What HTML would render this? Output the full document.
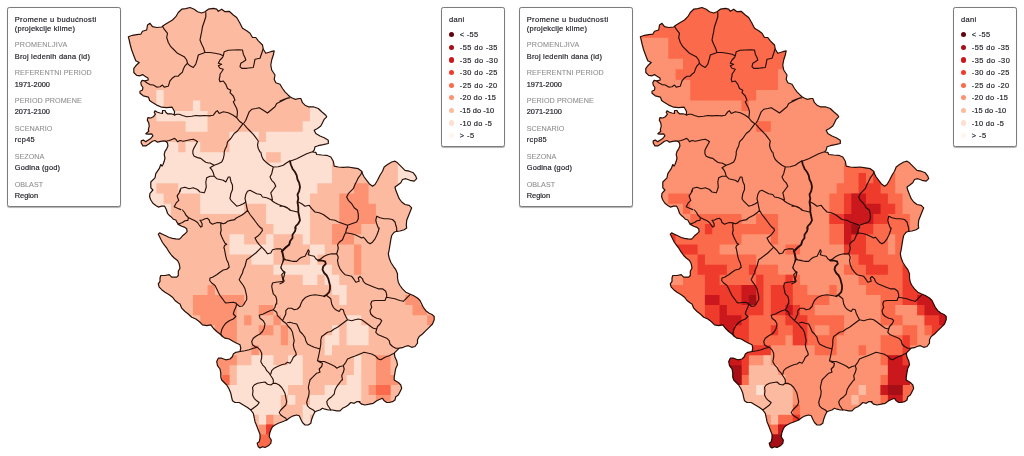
<!DOCTYPE html><html lang="sr"><head><meta charset="utf-8"><title>Promene u budućnosti</title><style>
html,body{margin:0;padding:0;background:#fff}
body{width:1024px;height:456px;position:relative;overflow:hidden;font-family:"Liberation Sans",sans-serif;color:#222}
.map{position:absolute;left:0;top:0}
.box{position:absolute;top:7px;box-sizing:border-box;background:#fff;border:1px solid #7c7c7c;border-radius:2.5px;box-shadow:0 .6px .8px rgba(0,0,0,.3)}
.box div{position:absolute;line-height:10px;height:10px;white-space:nowrap;margin:-1px 0 0 -1px}
.v{color:#1d1d24;-webkit-text-stroke:.18px #1d1d24}
.l{color:#8f8f8f;-webkit-text-stroke:.08px #8f8f8f}
.box i{position:absolute;width:5.3px;height:5.3px;border-radius:50%;margin:-1px 0 0 -1px}
</style></head><body><svg class="map" width="1024" height="456" viewBox="0 0 1024 456"><defs><clipPath id="c"><path d="M135.8 60.8L134.2 56.7L131.7 50.0L130.3 45.0L129.2 40.0L128.3 36.7L132.5 35.3L136.7 34.7L140.8 34.2L142.5 31.3L146.7 30.0L147.5 25.0L150.0 23.3L152.5 26.7L156.7 27.5L161.7 27.0L164.2 25.0L168.3 22.5L172.5 20.0L175.8 16.7L178.3 12.5L181.7 9.2L185.8 8.7L190.0 7.5L194.2 9.2L197.5 11.7L201.7 13.0L205.0 11.7L208.3 9.2L213.3 8.3L216.7 9.2L218.3 11.3L221.7 9.2L225.0 11.7L229.2 11.3L233.3 15.0L236.7 17.5L240.0 23.3L242.5 28.3L246.7 30.8L250.0 33.3L252.5 37.5L255.8 37.5L258.3 40.8L262.5 45.0L263.3 49.2L265.8 53.3L270.8 51.7L274.2 50.8L273.3 55.0L271.7 60.0L270.8 65.0L271.7 70.0L275.0 75.0L275.0 75.0L274.2 79.3L275.8 82.7L280.0 84.3L282.5 88.5L285.0 91.8L288.3 95.2L290.0 96.8L291.7 97.7L295.0 99.3L299.2 98.5L300.8 98.5L302.5 102.7L305.0 105.2L308.3 106.8L313.3 106.8L318.3 108.5L321.7 111.8L325.8 115.2L326.7 116.8L324.2 119.3L322.5 122.7L320.8 126.0L317.5 128.5L314.2 130.2L315.8 133.5L320.0 136.0L324.2 137.7L328.3 140.2L328.3 143.5L323.3 144.7L318.3 145.7L315.0 146.8L314.2 150.2L312.5 152.0L312.5 152.0L315.8 152.3L316.7 154.5L321.7 155.0L326.7 155.3L330.8 157.0L333.3 161.2L334.2 166.2L338.3 167.0L343.3 167.3L348.3 167.0L353.3 167.8L358.3 168.7L361.7 171.2L362.5 173.7L364.2 177.0L366.7 180.3L369.2 183.7L372.5 186.2L375.0 184.5L377.5 180.3L380.0 175.3L382.5 171.2L384.2 167.0L387.5 164.5L391.7 162.0L395.0 161.2L397.5 162.8L400.0 165.3L402.5 167.8L405.0 170.3L409.2 171.2L413.3 172.8L415.8 176.2L416.7 178.7L414.2 181.2L410.0 180.3L405.8 178.7L402.5 179.5L400.8 182.8L397.5 185.3L395.0 187.0L395.8 190.3L397.5 194.5L399.2 198.7L401.7 202.0L405.0 204.5L409.2 205.3L411.7 207.8L410.0 212.0L408.3 216.2L406.7 220.3L406.3 225.3L406.7 228.0L406.7 228.0L404.2 229.7L400.0 231.0L396.7 231.3L394.2 232.2L391.7 235.5L390.8 239.7L390.0 244.7L389.2 249.7L388.3 253.8L389.2 258.0L390.8 262.2L393.3 266.3L395.8 269.7L397.5 273.8L397.5 278.0L398.3 282.2L400.0 285.5L402.5 288.8L405.8 292.2L409.2 293.8L413.3 295.5L417.5 298.0L420.0 300.5L421.7 304.0L421.7 304.0L423.3 307.3L425.8 310.7L429.2 313.2L432.5 314.8L434.2 316.5L434.2 319.8L432.5 324.0L429.2 327.3L425.8 330.7L422.5 334.0L419.2 336.5L417.5 339.8L417.5 343.2L415.0 346.5L411.7 347.3L408.3 345.7L405.0 346.5L402.5 347.7L399.2 348.2L396.7 350.7L394.2 353.2L395.0 357.3L396.7 360.7L397.5 364.8L395.8 368.2L395.0 372.3L394.2 377.3L394.2 380.0L394.2 380.0L398.3 382.5L400.8 385.0L401.7 388.3L400.0 391.7L398.3 395.0L395.8 396.7L395.0 400.0L392.5 401.7L389.2 402.5L386.7 402.5L384.2 400.8L382.5 398.3L380.0 399.2L376.7 400.8L373.3 403.3L369.2 404.2L365.0 405.0L361.7 404.2L359.2 402.0L360.0 401.7L356.7 401.7L354.2 403.3L350.8 402.5L348.3 405.0L345.8 406.7L342.5 408.3L340.0 410.8L336.7 410.8L332.5 410.0L328.3 410.0L325.0 409.2L322.5 408.3L320.0 410.0L317.5 410.8L315.0 411.7L313.3 415.0L311.7 419.2L310.8 423.3L308.3 425.0L305.0 425.0L302.5 422.5L300.8 419.2L299.2 415.8L296.7 415.0L293.3 415.8L290.0 417.5L286.7 420.0L282.5 421.7L278.3 423.3L275.0 425.0L272.5 426.7L270.8 430.0L269.7 433.3L269.2 436.7L271.3 440.0L270.8 443.3L268.3 445.8L265.0 447.5L262.5 446.7L260.0 448.0L258.3 446.7L257.2 443.3L259.2 441.7L260.0 438.3L260.0 434.2L258.3 430.0L256.7 425.8L255.0 421.7L254.2 417.5L253.3 413.3L250.8 410.0L247.5 407.5L243.3 405.0L239.2 402.5L235.0 402.5L232.5 400.8L231.7 397.5L230.8 393.3L229.2 389.2L226.7 385.0L224.2 382.5L221.7 380.0L221.7 380.0L220.8 377.3L220.8 373.2L220.0 369.0L217.5 365.7L216.7 361.5L218.3 358.2L221.7 358.2L225.8 359.8L230.0 359.0L232.5 356.5L233.3 354.0L235.8 352.3L240.0 351.5L240.8 348.2L240.0 344.8L236.7 343.2L233.3 341.5L229.2 339.0L225.0 338.2L222.5 336.5L220.0 334.0L216.7 331.5L213.3 328.2L210.8 324.8L206.7 325.7L202.5 324.8L199.2 321.5L195.8 319.0L191.7 317.3L188.3 314.0L185.0 311.5L181.7 308.2L180.0 304.0L180.0 304.0L178.3 303.0L175.0 300.5L172.5 297.2L169.2 294.7L165.0 292.2L161.7 289.7L159.2 287.2L158.3 283.8L160.0 281.3L160.0 278.0L160.8 275.5L165.0 275.5L169.2 274.7L171.7 277.2L176.7 277.2L178.3 275.5L178.3 271.3L180.0 268.0L179.2 263.8L177.5 260.5L174.2 258.0L171.7 255.5L169.2 252.2L166.7 248.0L166.7 248.0L164.6 245.4L162.5 242.5L160.8 239.2L159.6 236.7L158.3 234.2L159.6 232.9L162.5 234.2L165.8 235.8L169.2 237.5L172.5 238.3L175.8 238.8L179.2 239.2L180.8 237.9L182.9 235.4L185.0 233.8L187.1 231.7L186.7 228.8L184.2 227.1L181.7 226.2L178.8 224.6L177.1 222.5L175.8 220.0L173.3 219.2L170.4 216.2L170.0 216.2L167.5 213.3L166.2 209.2L164.6 206.2L161.7 206.2L158.3 207.1L155.8 205.4L152.9 203.3L150.8 200.0L149.6 196.7L150.0 193.3L152.9 190.0L150.8 187.8L150.8 182.0L155.0 177.8L155.8 173.7L159.2 168.7L160.8 164.5L162.1 166.0L162.9 164.7L164.2 161.3L165.0 158.0L164.2 154.7L165.0 151.3L166.7 148.8L167.9 145.9L167.5 143.0L165.8 141.3L164.2 140.9L160.8 141.3L157.5 142.2L155.0 140.5L152.5 141.3L149.2 143.8L145.8 145.9L142.9 145.9L141.2 143.0L141.2 140.9L143.3 140.1L145.8 141.8L147.5 140.5L150.8 138.4L152.9 135.9L151.7 133.8L148.3 134.2L145.8 133.8L148.8 131.3L148.3 129.7L149.2 126.3L148.8 123.0L147.3 120.1L147.9 117.6L150.8 118.0L153.3 116.8L155.4 114.2L154.2 112.2L155.0 110.9L157.5 112.2L160.0 113.0L162.5 113.4L162.5 110.5L165.0 110.5L165.8 112.2L167.5 113.8L171.2 113.8L174.2 114.7L174.6 111.8L173.3 109.2L172.1 107.2L166.7 107.6L161.7 107.2L156.7 105.1L152.5 102.6L149.6 100.5L148.8 98.0L148.8 98.0L148.3 97.1L143.3 95.8L140.0 93.3L140.0 91.2L142.5 90.0L142.9 87.5L141.2 85.0L140.8 82.5L142.1 80.4L145.0 80.8L148.3 80.0L147.9 77.9L145.0 76.2L142.5 74.6L140.0 75.8L136.7 75.4L133.8 72.5L133.8 68.3L135.8 65.8L139.2 62.5Z"/></clipPath><g id="b" fill="none" stroke="#200a03" stroke-opacity=".97" stroke-linejoin="round" stroke-linecap="round"><path d="M162.5 26.3L164.2 29.2L167.5 33.3L166.7 37.5L168.3 42.5L170.8 46.7L174.2 50.0L177.5 53.3L180.8 55.0L184.2 56.7L186.7 60.0L187.5 63.3L190.0 65.8L193.3 67.5L195.8 64.2L197.5 58.3L198.3 55.0L201.7 53.7L205.0 52.5M205.8 12.5L205.8 16.7L204.2 21.7L202.5 26.7L201.7 31.7L200.8 35.8L200.0 40.0L201.7 44.2L203.3 47.5L205.0 52.5L210.0 52.5L215.0 53.3L220.0 54.2L223.3 55.8L224.2 51.7L228.3 50.3L233.3 50.0L238.3 49.7L242.5 50.0L243.3 54.2L245.0 57.5L245.8 60.0L243.3 61.7L240.8 63.3L240.0 66.7L241.7 68.3L246.7 68.3L253.3 67.5L254.2 63.3L255.0 59.2L260.0 58.3L261.7 53.3L263.0 49.2M223.3 55.8L222.5 57.5L220.0 60.0L218.3 63.3L221.7 64.2L218.3 65.8L220.0 68.3L223.3 69.2L221.7 71.7L220.0 74.2L220.0 76.0M145.0 81.5L147.5 83.3L150.0 84.6L153.3 85.0L156.7 87.1L160.0 86.7L162.5 85.0L164.2 87.1L168.3 86.2L169.2 83.3L170.0 80.8L172.5 77.9L175.0 76.2L178.3 76.2L180.0 74.2L182.5 72.1L183.3 69.2L185.0 65.8L187.3 63.5M174.3 115.1L176.7 114.2L179.2 114.2L182.5 115.5L186.7 116.8L191.7 116.3L195.8 115.5L200.0 115.9L204.2 115.5L210.0 115.9M165.8 141.3L169.2 140.5L172.5 139.2L174.6 138.4L176.2 139.7L177.5 141.8L180.0 140.5L183.3 141.3L186.7 140.5L190.0 139.7L193.3 139.2L195.8 140.5L197.5 141.8L195.8 144.7L194.2 147.6L192.9 150.5L192.9 153.8L194.2 156.3L197.5 157.6L200.8 158.4L203.3 160.5L205.8 162.2L208.3 163.0L210.0 163.0M220.0 76.0L219.2 79.3L220.0 81.8L223.3 81.0L225.8 84.3L227.5 88.5L230.8 90.2L230.0 92.7L233.3 96.0L235.0 100.2L233.3 101.8L235.0 105.2L236.7 108.5L237.5 111.8L237.0 116.8M210.0 115.7L213.3 115.2L215.8 111.8L217.5 110.7L219.2 113.5L223.3 111.8L228.3 112.7L233.3 115.2L236.7 117.7L239.2 121.0L242.5 123.5M244.2 122.7L245.8 120.2L247.5 116.0L249.2 111.8L251.7 109.3L255.8 108.5L259.2 107.7L263.3 110.2L267.5 113.0L270.8 110.2L275.0 106.8L276.7 103.5L281.7 101.0L286.7 98.5L290.0 97.7M243.3 123.5L246.7 127.7L250.0 131.0L253.3 134.3L255.8 137.7L258.3 141.0L257.5 145.2L258.3 148.5L260.0 152.0M242.5 124.3L240.0 127.7L237.5 131.0L234.2 133.5L230.8 138.5L227.5 141.8L226.7 146.0L225.0 149.3L224.2 152.0M280.0 101.0L284.2 99.3L288.3 97.7M210.0 163.0L214.2 165.3M224.2 152.0L224.2 154.5L223.3 158.7L221.7 162.0L218.3 163.7L214.2 165.3L210.0 167.8L211.7 169.5L213.3 172.8L214.2 176.2M214.2 176.2L210.0 176.2L206.7 177.8L205.8 182.0L206.3 187.0L205.0 191.2L204.2 192.8L200.0 192.0L197.5 189.5L193.3 187.8L189.2 188.7L185.0 187.3L180.8 188.3L180.0 192.0M214.2 176.2L216.7 178.7L220.0 179.5L223.3 180.3L225.8 182.0L228.3 177.0L230.0 177.0L230.8 181.2L232.5 185.3L232.5 189.5L230.8 193.7L230.0 198.7L231.7 201.2L234.2 203.7L236.7 206.2L240.0 205.3L243.3 203.7L245.8 202.0M245.8 202.0L245.0 198.7L245.8 194.5L247.5 191.2L250.0 190.3L253.3 192.0L256.7 193.7L260.8 194.5L262.5 197.0L266.7 197.8L270.8 199.5L272.5 201.2L275.0 202.8L278.3 204.5L283.3 206.2L286.7 207.8L290.0 209.5M245.8 202.0L246.7 207.0L247.5 210.3L250.0 214.5L253.3 218.7L255.8 222.0L258.3 225.3L260.8 228.0M247.5 210.3L245.0 212.8L241.7 215.3L236.7 217.8L235.0 219.0M260.8 152.0L261.7 156.2L263.3 159.5L266.7 162.8L270.0 165.3L273.3 167.0L278.3 166.7L283.3 165.3L286.7 162.8L289.2 161.2M273.3 167.0L272.5 170.3L271.7 173.7L270.0 177.0L271.7 180.3L274.2 182.8L275.8 186.2L273.3 189.5L270.8 192.8L271.7 196.2L272.5 200.3M180.0 190.0L179.2 192.9L177.1 195.8L177.9 198.3L178.8 200.4L176.2 202.9L174.2 206.7L177.5 208.3L180.8 209.6M290.0 161.2L296.7 158.7L301.7 156.2L306.7 153.7L311.7 152.0M298.3 202.0L301.7 203.7L305.0 206.2L309.2 205.3L311.7 208.7L315.0 212.0L319.2 212.8L323.3 214.5L326.7 217.0L330.0 219.5L335.0 220.3L338.3 222.0L343.3 223.7L347.5 225.3L351.7 223.7L356.7 222.0L358.3 218.7L358.3 214.5L357.5 210.3L354.2 207.8L351.7 203.7L348.3 200.3L346.7 197.0L348.3 193.7L350.8 191.2L353.3 188.7L355.0 184.5L356.7 181.2L358.3 177.8L360.8 174.5L362.0 172.0M347.5 225.3L347.5 228.0M280.0 206.2L284.2 206.2L287.5 207.8L290.0 210.3L294.2 211.2L297.5 212.0M378.3 228.0L376.7 223.7L375.8 220.3L376.7 216.2L380.0 217.8L384.2 218.7L388.3 218.7L392.5 219.5L395.0 222.0L395.8 225.3L396.7 228.0M182.5 210.0L184.6 212.5L185.8 215.0L188.3 217.5L191.7 219.2L195.0 220.8L197.5 222.5L199.2 225.0L200.8 227.1L202.1 226.2L202.1 223.8L200.8 221.2L200.0 220.4L202.5 220.0L205.0 218.8L207.5 218.3L209.2 220.0L210.0 222.5L212.5 224.2L215.0 223.3L217.5 222.5L220.8 222.9L223.3 223.8L225.8 222.9L227.5 221.2L230.8 220.4L235.0 219.6M188.3 217.9L187.9 220.4L185.0 220.8L182.5 222.5L179.2 223.8L177.9 224.2M220.8 223.3L220.8 226.7L221.2 230.0L220.4 233.3L221.7 236.7L223.3 240.0L225.0 243.3L226.7 244.2L224.6 245.4L223.8 248.0M224.2 248.0L225.0 252.2L225.8 256.3L226.7 259.7L228.3 263.0L229.2 267.2L226.7 269.3L223.3 270.0L220.0 272.2L216.7 274.7L212.5 277.2L210.0 278.0L209.7 280.5L211.7 283.0L215.0 285.5L216.7 288.8L218.3 292.2L220.0 295.5L222.5 298.8L224.2 301.3L225.8 303.0L228.3 302.7L233.3 302.2L235.8 303.0L236.7 304.0M261.7 228.0L262.5 230.5L260.0 233.8L257.5 236.3L255.0 238.0L256.7 241.3L259.2 244.7L261.7 247.2M261.7 247.2L259.2 249.7L255.8 253.0L252.5 255.5L249.2 258.0L246.7 259.7L245.8 263.0L245.0 266.3L243.3 269.7L242.5 273.0L240.8 276.3L239.2 279.7L240.8 282.2L243.3 285.5L245.0 288.8L245.8 292.2L246.7 296.3L246.7 299.7L245.0 302.2L244.2 304.0M261.7 247.2L265.0 250.5L267.5 253.8L270.8 253.0L272.5 249.7L276.7 248.8L280.8 248.8L282.5 251.3L283.3 254.7L284.2 258.8M290.0 242.2L289.2 244.7L286.7 247.2L284.2 249.7L282.5 251.3M284.2 258.8L285.8 259.7L290.0 260.5M284.2 258.8L283.3 261.3L281.7 264.7L280.8 268.0L282.5 270.5L285.0 272.2L284.2 275.5L283.3 278.8L284.2 281.3L280.0 281.7L275.8 282.2L272.5 283.0L271.7 286.3L272.5 290.5L273.3 293.8L275.8 296.3L276.7 299.7L276.7 304.0M396.7 228.0L396.7 231.3M346.7 228.0L345.8 232.2L344.2 235.5L342.5 239.7L339.2 242.2L337.5 244.7L338.3 248.0L337.5 251.3L336.7 253.8M345.8 232.7L351.7 233.8L355.0 234.7L358.3 236.3L361.7 238.0L363.3 237.2L365.0 238.8L367.5 242.2L370.0 243.8L372.5 242.2L375.0 238.8L376.7 235.5L378.3 231.3L379.2 228.0M336.7 253.8L331.7 253.8L327.5 254.7L324.2 256.3L320.8 258.8L318.3 260.5L315.8 258.8L314.2 256.3L310.8 255.5L308.3 254.7L309.2 251.3L308.3 249.7L306.7 253.0L305.0 256.3L301.7 257.2L299.2 258.8L296.7 261.3L292.5 261.3L288.3 260.5L285.0 259.7L283.3 258.8M281.7 251.3L282.5 254.7L283.3 258.8L282.5 263.0L280.8 267.2L282.5 270.5L284.2 272.2L281.7 274.7L282.5 278.0L283.3 282.2L280.0 283.8M336.7 253.8L338.3 257.2L337.5 260.5L338.3 264.7L340.0 268.8L342.5 272.2L345.0 274.7L348.3 275.5L351.7 276.3L354.2 279.7L355.8 282.2L359.2 281.3L358.3 278.0L360.0 276.3L362.5 278.8L363.3 281.3L365.8 283.8L370.0 285.5L374.2 287.2L378.3 288.8L382.5 288.8L385.8 291.3L386.7 294.7L386.7 297.2L390.8 298.0L395.0 298.8L397.5 299.7L400.0 300.5L403.3 301.3L405.8 298.8L408.3 296.3L410.0 294.7M386.3 297.2L385.0 300.5L380.0 300.5L375.0 300.5L371.7 301.3L370.8 304.0M324.2 296.3L320.0 295.5L315.0 294.7L310.0 295.5L305.8 297.2L302.5 300.5L300.8 304.0M326.7 295.5L330.8 298.8L331.7 304.0M236.7 304.0L235.8 307.3L234.2 310.7L233.3 314.0L235.8 316.5L233.3 319.0L229.2 320.7L225.8 323.2L223.3 326.5L221.7 329.8L220.8 334.0L222.0 336.0M244.2 304.0L242.5 306.0L239.7 306.5L237.5 304.8L236.7 304.0M275.8 304.0L275.0 307.3L273.3 309.8L270.0 310.7L266.7 312.3L263.3 314.0L259.2 315.3L260.0 318.2L263.3 320.7L265.0 324.0L264.2 328.2L262.5 331.5L260.0 334.0L256.7 335.7L253.3 338.2L251.7 341.5L252.5 344.8L255.0 346.5L257.5 347.3M257.5 347.3L253.3 348.2L249.2 349.8L245.0 350.7L240.3 351.5M257.5 347.3L260.0 349.8L261.7 353.2L261.7 357.3L260.8 361.5L262.5 364.8L265.0 367.3L266.7 370.7L269.2 373.2L270.8 375.7L272.5 378.2L273.3 380.0M270.8 374.0L271.7 370.7L274.2 368.2L277.5 366.5L281.7 364.8L285.0 364.0L287.5 362.3L290.0 363.2M273.3 309.8L276.7 312.3L277.5 315.7L280.0 318.2L282.5 320.7M282.5 320.7L285.8 323.2L288.3 326.5L290.8 329.0L292.5 332.3L293.3 336.5L294.2 340.7L293.3 344.8L294.2 349.0L295.8 352.3L296.3 354.8L293.3 357.3L291.7 360.7L290.0 363.2M300.8 304.0L300.0 306.5L297.5 309.0L294.2 309.8L291.7 308.2L288.3 308.2L285.8 310.7L285.8 314.0L284.2 317.3L282.5 320.7M287.5 322.7L290.0 322.3L293.3 323.2L296.7 324.0L298.3 327.3L300.0 331.5L302.5 334.0L305.0 337.3L305.8 340.7L307.5 344.0L310.8 345.7L314.2 347.3L317.5 348.2L320.0 349.0M331.7 304.0L333.3 307.3L335.8 309.8L339.2 311.5L340.8 309.0L343.3 309.8L344.2 313.2L345.8 316.5L347.5 319.8M347.5 319.8L344.2 322.3L340.8 324.8L337.5 327.3L334.2 329.0L330.8 331.5L327.5 332.3L324.2 334.8L321.7 336.5L320.8 339.8L320.8 344.0L320.0 349.0L319.2 353.2L318.3 357.3L317.5 360.7L320.8 361.5L324.2 361.5L328.3 363.2L331.7 364.8L335.0 366.5L336.7 368.2L340.0 366.5L343.3 365.7L345.8 362.3L347.5 359.0L351.7 357.3L355.8 355.7L360.0 354.0L364.2 352.3L368.3 353.2L371.7 354.0L375.0 355.7L378.3 359.0L380.8 359.8L385.0 357.3L389.2 355.7L392.5 354.0L394.7 353.2M347.5 319.8L351.7 320.7L355.0 319.8L358.3 319.0L361.7 319.8L364.2 321.5L367.5 324.0L370.8 326.5L373.3 328.2L376.7 329.0L377.5 326.5L380.0 324.0L381.7 320.7L380.0 319.0L376.7 318.2L373.3 316.5L370.8 314.0L370.0 310.7L371.7 307.3L370.8 304.0M376.7 329.0L375.8 332.3L378.3 334.8L382.5 336.5L386.7 338.2L389.2 340.7L390.0 344.0L392.5 346.5L395.8 348.2L398.7 348.2M317.5 360.7L320.0 362.3L322.5 363.2L321.7 366.5L319.2 369.0L320.0 372.3L316.7 373.2L314.2 375.7L311.7 378.2L310.0 380.0M343.3 365.7L344.2 369.0L343.3 372.3L341.7 375.7L342.5 380.0M250.8 410.0L254.2 407.5L257.5 405.0L259.2 402.5L256.7 400.8L254.2 398.3L252.5 395.0L253.0 390.8L252.5 387.5L254.2 385.0L257.5 383.3L261.7 382.5L265.0 382.0L267.5 384.2L270.8 385.0L273.3 383.3L275.8 383.3L279.2 385.0L281.7 387.5L283.3 390.0L285.0 393.3L285.8 397.5L286.7 401.7L285.8 405.0L283.3 407.5L280.8 410.0L279.2 412.5L280.8 415.0L283.3 416.7L285.8 418.3L286.7 420.0M273.3 380.0L273.3 383.3M310.0 380.0L309.2 383.3L308.3 387.5L309.2 391.7L308.7 395.8L307.5 399.2L306.7 402.5L307.5 405.8L310.0 408.3L313.3 410.0L315.0 411.7M341.7 380.0L339.2 383.3L336.7 386.7L335.0 390.0L334.2 394.2L331.7 396.7L328.3 399.2L326.7 401.7L327.5 405.0L329.2 407.5L330.8 410.0" stroke-width="1.15"/><path d="M290.0 161.2L290.8 164.5L292.5 168.7L295.0 172.0L296.7 175.3L297.5 179.5L299.2 182.8L300.0 187.0L299.2 191.2L297.5 194.5L298.3 198.7L297.5 202.0L298.3 207.0L298.3 212.0L299.2 216.2L300.0 220.3L298.3 223.7L295.8 226.2L295.0 228.0M295.8 228.0L295.0 231.3L292.5 234.7L292.5 238.0L290.0 241.3L289.2 244.7L285.8 247.2L283.3 249.7L281.7 251.3M318.3 260.5L321.7 260.5L325.0 261.3L325.8 263.8L323.3 266.3L322.5 269.7L324.2 273.0L326.7 275.5L328.3 278.8L329.2 282.2L330.0 285.5L330.0 288.8L329.2 292.2L326.7 294.7L324.2 296.3" stroke-width="1.8"/><path d="M135.8 60.8L134.2 56.7L131.7 50.0L130.3 45.0L129.2 40.0L128.3 36.7L132.5 35.3L136.7 34.7L140.8 34.2L142.5 31.3L146.7 30.0L147.5 25.0L150.0 23.3L152.5 26.7L156.7 27.5L161.7 27.0L164.2 25.0L168.3 22.5L172.5 20.0L175.8 16.7L178.3 12.5L181.7 9.2L185.8 8.7L190.0 7.5L194.2 9.2L197.5 11.7L201.7 13.0L205.0 11.7L208.3 9.2L213.3 8.3L216.7 9.2L218.3 11.3L221.7 9.2L225.0 11.7L229.2 11.3L233.3 15.0L236.7 17.5L240.0 23.3L242.5 28.3L246.7 30.8L250.0 33.3L252.5 37.5L255.8 37.5L258.3 40.8L262.5 45.0L263.3 49.2L265.8 53.3L270.8 51.7L274.2 50.8L273.3 55.0L271.7 60.0L270.8 65.0L271.7 70.0L275.0 75.0L275.0 75.0L274.2 79.3L275.8 82.7L280.0 84.3L282.5 88.5L285.0 91.8L288.3 95.2L290.0 96.8L291.7 97.7L295.0 99.3L299.2 98.5L300.8 98.5L302.5 102.7L305.0 105.2L308.3 106.8L313.3 106.8L318.3 108.5L321.7 111.8L325.8 115.2L326.7 116.8L324.2 119.3L322.5 122.7L320.8 126.0L317.5 128.5L314.2 130.2L315.8 133.5L320.0 136.0L324.2 137.7L328.3 140.2L328.3 143.5L323.3 144.7L318.3 145.7L315.0 146.8L314.2 150.2L312.5 152.0L312.5 152.0L315.8 152.3L316.7 154.5L321.7 155.0L326.7 155.3L330.8 157.0L333.3 161.2L334.2 166.2L338.3 167.0L343.3 167.3L348.3 167.0L353.3 167.8L358.3 168.7L361.7 171.2L362.5 173.7L364.2 177.0L366.7 180.3L369.2 183.7L372.5 186.2L375.0 184.5L377.5 180.3L380.0 175.3L382.5 171.2L384.2 167.0L387.5 164.5L391.7 162.0L395.0 161.2L397.5 162.8L400.0 165.3L402.5 167.8L405.0 170.3L409.2 171.2L413.3 172.8L415.8 176.2L416.7 178.7L414.2 181.2L410.0 180.3L405.8 178.7L402.5 179.5L400.8 182.8L397.5 185.3L395.0 187.0L395.8 190.3L397.5 194.5L399.2 198.7L401.7 202.0L405.0 204.5L409.2 205.3L411.7 207.8L410.0 212.0L408.3 216.2L406.7 220.3L406.3 225.3L406.7 228.0L406.7 228.0L404.2 229.7L400.0 231.0L396.7 231.3L394.2 232.2L391.7 235.5L390.8 239.7L390.0 244.7L389.2 249.7L388.3 253.8L389.2 258.0L390.8 262.2L393.3 266.3L395.8 269.7L397.5 273.8L397.5 278.0L398.3 282.2L400.0 285.5L402.5 288.8L405.8 292.2L409.2 293.8L413.3 295.5L417.5 298.0L420.0 300.5L421.7 304.0L421.7 304.0L423.3 307.3L425.8 310.7L429.2 313.2L432.5 314.8L434.2 316.5L434.2 319.8L432.5 324.0L429.2 327.3L425.8 330.7L422.5 334.0L419.2 336.5L417.5 339.8L417.5 343.2L415.0 346.5L411.7 347.3L408.3 345.7L405.0 346.5L402.5 347.7L399.2 348.2L396.7 350.7L394.2 353.2L395.0 357.3L396.7 360.7L397.5 364.8L395.8 368.2L395.0 372.3L394.2 377.3L394.2 380.0L394.2 380.0L398.3 382.5L400.8 385.0L401.7 388.3L400.0 391.7L398.3 395.0L395.8 396.7L395.0 400.0L392.5 401.7L389.2 402.5L386.7 402.5L384.2 400.8L382.5 398.3L380.0 399.2L376.7 400.8L373.3 403.3L369.2 404.2L365.0 405.0L361.7 404.2L359.2 402.0L360.0 401.7L356.7 401.7L354.2 403.3L350.8 402.5L348.3 405.0L345.8 406.7L342.5 408.3L340.0 410.8L336.7 410.8L332.5 410.0L328.3 410.0L325.0 409.2L322.5 408.3L320.0 410.0L317.5 410.8L315.0 411.7L313.3 415.0L311.7 419.2L310.8 423.3L308.3 425.0L305.0 425.0L302.5 422.5L300.8 419.2L299.2 415.8L296.7 415.0L293.3 415.8L290.0 417.5L286.7 420.0L282.5 421.7L278.3 423.3L275.0 425.0L272.5 426.7L270.8 430.0L269.7 433.3L269.2 436.7L271.3 440.0L270.8 443.3L268.3 445.8L265.0 447.5L262.5 446.7L260.0 448.0L258.3 446.7L257.2 443.3L259.2 441.7L260.0 438.3L260.0 434.2L258.3 430.0L256.7 425.8L255.0 421.7L254.2 417.5L253.3 413.3L250.8 410.0L247.5 407.5L243.3 405.0L239.2 402.5L235.0 402.5L232.5 400.8L231.7 397.5L230.8 393.3L229.2 389.2L226.7 385.0L224.2 382.5L221.7 380.0L221.7 380.0L220.8 377.3L220.8 373.2L220.0 369.0L217.5 365.7L216.7 361.5L218.3 358.2L221.7 358.2L225.8 359.8L230.0 359.0L232.5 356.5L233.3 354.0L235.8 352.3L240.0 351.5L240.8 348.2L240.0 344.8L236.7 343.2L233.3 341.5L229.2 339.0L225.0 338.2L222.5 336.5L220.0 334.0L216.7 331.5L213.3 328.2L210.8 324.8L206.7 325.7L202.5 324.8L199.2 321.5L195.8 319.0L191.7 317.3L188.3 314.0L185.0 311.5L181.7 308.2L180.0 304.0L180.0 304.0L178.3 303.0L175.0 300.5L172.5 297.2L169.2 294.7L165.0 292.2L161.7 289.7L159.2 287.2L158.3 283.8L160.0 281.3L160.0 278.0L160.8 275.5L165.0 275.5L169.2 274.7L171.7 277.2L176.7 277.2L178.3 275.5L178.3 271.3L180.0 268.0L179.2 263.8L177.5 260.5L174.2 258.0L171.7 255.5L169.2 252.2L166.7 248.0L166.7 248.0L164.6 245.4L162.5 242.5L160.8 239.2L159.6 236.7L158.3 234.2L159.6 232.9L162.5 234.2L165.8 235.8L169.2 237.5L172.5 238.3L175.8 238.8L179.2 239.2L180.8 237.9L182.9 235.4L185.0 233.8L187.1 231.7L186.7 228.8L184.2 227.1L181.7 226.2L178.8 224.6L177.1 222.5L175.8 220.0L173.3 219.2L170.4 216.2L170.0 216.2L167.5 213.3L166.2 209.2L164.6 206.2L161.7 206.2L158.3 207.1L155.8 205.4L152.9 203.3L150.8 200.0L149.6 196.7L150.0 193.3L152.9 190.0L150.8 187.8L150.8 182.0L155.0 177.8L155.8 173.7L159.2 168.7L160.8 164.5L162.1 166.0L162.9 164.7L164.2 161.3L165.0 158.0L164.2 154.7L165.0 151.3L166.7 148.8L167.9 145.9L167.5 143.0L165.8 141.3L164.2 140.9L160.8 141.3L157.5 142.2L155.0 140.5L152.5 141.3L149.2 143.8L145.8 145.9L142.9 145.9L141.2 143.0L141.2 140.9L143.3 140.1L145.8 141.8L147.5 140.5L150.8 138.4L152.9 135.9L151.7 133.8L148.3 134.2L145.8 133.8L148.8 131.3L148.3 129.7L149.2 126.3L148.8 123.0L147.3 120.1L147.9 117.6L150.8 118.0L153.3 116.8L155.4 114.2L154.2 112.2L155.0 110.9L157.5 112.2L160.0 113.0L162.5 113.4L162.5 110.5L165.0 110.5L165.8 112.2L167.5 113.8L171.2 113.8L174.2 114.7L174.6 111.8L173.3 109.2L172.1 107.2L166.7 107.6L161.7 107.2L156.7 105.1L152.5 102.6L149.6 100.5L148.8 98.0L148.8 98.0L148.3 97.1L143.3 95.8L140.0 93.3L140.0 91.2L142.5 90.0L142.9 87.5L141.2 85.0L140.8 82.5L142.1 80.4L145.0 80.8L148.3 80.0L147.9 77.9L145.0 76.2L142.5 74.6L140.0 75.8L136.7 75.4L133.8 72.5L133.8 68.3L135.8 65.8L139.2 62.5Z" stroke-width="1.2"/></g></defs><g transform="translate(0 0)"><g clip-path="url(#c)"><g><rect x="110" y="-10" width="350" height="476" fill="#fcbba1"/><path d="M353.95 183.17H368.59V193.43H353.95ZM339.31 193.43H368.59V203.66H339.31ZM339.31 203.66H375.91V213.88H339.31ZM339.31 213.88H375.91V224.09H339.31ZM331.99 224.09H361.27V234.27H331.99ZM331.99 234.27H353.95V244.44H331.99ZM353.95 244.44H361.27V254.59H353.95ZM353.95 254.59H361.27V264.72H353.95ZM353.95 264.72H361.27V274.84H353.95ZM207.55 284.94H214.87V295.02H207.55ZM192.91 295.02H244.15V305.09H192.91ZM405.19 295.02H419.83V305.09H405.19ZM192.91 305.09H236.83V315.14H192.91ZM258.79 305.09H273.43V315.14H258.79ZM412.51 305.09H427.15V315.14H412.51ZM200.23 315.14H236.83V325.17H200.23ZM244.15 315.14H251.47V325.17H244.15ZM273.43 315.14H280.75V325.17H273.43ZM427.15 315.14H434.47V325.17H427.15ZM214.87 325.17H236.83V335.19H214.87ZM258.79 325.17H273.43V335.19H258.79ZM280.75 325.17H288.07V335.19H280.75ZM222.19 335.19H236.83V345.19H222.19ZM280.75 335.19H288.07V345.19H280.75ZM251.47 345.19H258.79V355.17H251.47ZM214.87 355.17H236.83V365.14H214.87ZM375.91 355.17H390.55V365.14H375.91ZM214.87 365.14H229.51V375.09H214.87ZM375.91 365.14H390.55V375.09H375.91ZM222.19 375.09H229.51V385.03H222.19ZM375.91 375.09H397.87V385.03H375.91ZM368.59 385.03H390.55V394.95H368.59ZM375.91 394.95H390.55V404.85H375.91ZM266.11 414.74H273.43V424.62H266.11ZM258.79 424.62H273.43V434.48H258.79ZM258.79 434.48H273.43V444.32H258.79ZM258.79 444.32H273.43V454.14H258.79Z" fill="#fc9272"/><path d="M222.19 375.09H229.51V385.03H222.19ZM375.91 385.03H390.55V394.95H375.91ZM266.11 424.62H273.43V434.48H266.11ZM258.79 434.48H273.43V444.32H258.79ZM258.79 444.32H273.43V454.14H258.79Z" fill="#fb6a4a"/><path d="M266.11 424.62H273.43V434.48H266.11Z" fill="#ef3b2c"/><path d="M156.31 90.08H163.63V100.5H156.31ZM156.31 100.5H163.63V110.9H156.31ZM192.91 100.5H200.23V110.9H192.91ZM310.03 100.5H339.31V110.9H310.03ZM156.31 110.9H207.55V121.28H156.31ZM310.03 110.9H339.31V121.28H310.03ZM185.59 121.28H207.55V131.64H185.59ZM302.71 121.28H339.31V131.64H302.71ZM229.51 131.64H258.79V141.98H229.51ZM266.11 131.64H339.31V141.98H266.11ZM163.63 141.98H178.27V152.31H163.63ZM185.59 141.98H200.23V152.31H185.59ZM229.51 141.98H339.31V152.31H229.51ZM148.99 152.31H266.11V162.61H148.99ZM280.75 152.31H331.99V162.61H280.75ZM148.99 162.61H331.99V172.9H148.99ZM397.87 162.61H419.83V172.9H397.87ZM148.99 172.9H331.99V183.17H148.99ZM397.87 172.9H419.83V183.17H397.87ZM148.99 183.17H156.31V193.43H148.99ZM178.27 183.17H317.35V193.43H178.27ZM148.99 193.43H163.63V203.66H148.99ZM200.23 193.43H310.03V203.66H200.23ZM148.99 203.66H170.95V213.88H148.99ZM200.23 203.66H244.15V213.88H200.23ZM266.11 203.66H310.03V213.88H266.11ZM148.99 213.88H170.95V224.09H148.99ZM266.11 213.88H310.03V224.09H266.11ZM273.43 224.09H310.03V234.27H273.43ZM229.51 234.27H244.15V244.44H229.51ZM266.11 234.27H273.43V244.44H266.11ZM302.71 234.27H310.03V244.44H302.71ZM229.51 244.44H273.43V254.59H229.51ZM310.03 244.44H324.67V254.59H310.03ZM251.47 254.59H273.43V264.72H251.47ZM310.03 254.59H317.35V264.72H310.03ZM273.43 264.72H331.99V274.84H273.43ZM302.71 274.84H317.35V284.94H302.71ZM324.67 274.84H339.31V284.94H324.67ZM331.99 284.94H346.63V295.02H331.99ZM339.31 295.02H346.63V305.09H339.31ZM346.63 315.14H361.27V325.17H346.63ZM331.99 325.17H339.31V335.19H331.99ZM346.63 325.17H368.59V335.19H346.63ZM324.67 335.19H339.31V345.19H324.67ZM346.63 335.19H368.59V345.19H346.63ZM324.67 345.19H331.99V355.17H324.67ZM251.47 355.17H273.43V365.14H251.47ZM288.07 355.17H302.71V365.14H288.07ZM353.95 355.17H361.27V365.14H353.95ZM236.83 365.14H302.71V375.09H236.83ZM353.95 365.14H361.27V375.09H353.95ZM236.83 375.09H302.71V385.03H236.83ZM346.63 375.09H361.27V385.03H346.63ZM229.51 385.03H288.07V394.95H229.51ZM324.67 385.03H361.27V394.95H324.67ZM229.51 394.95H280.75V404.85H229.51ZM288.07 394.95H295.39V404.85H288.07ZM310.03 394.95H361.27V404.85H310.03ZM229.51 404.85H280.75V414.74H229.51ZM302.71 404.85H361.27V414.74H302.71ZM258.79 414.74H266.11V424.62H258.79ZM302.71 414.74H310.03V424.62H302.71Z" fill="#fee0d2"/></g></g><use href="#b"/></g><g transform="translate(512 0)"><g clip-path="url(#c)"><g><rect x="110" y="-10" width="350" height="476" fill="#fc9272"/><path d="M68.47 6.08H449.11V16.65H68.47ZM68.47 16.65H449.11V27.2H68.47ZM68.47 27.2H449.11V37.73H68.47ZM156.31 37.73H449.11V48.24H156.31ZM156.31 48.24H449.11V58.73H156.31ZM170.95 58.73H449.11V69.2H170.95ZM163.63 69.2H266.11V79.65H163.63ZM178.27 79.65H266.11V90.08H178.27ZM178.27 90.08H244.15V100.5H178.27ZM229.51 100.5H236.83V110.9H229.51ZM244.15 121.28H258.79V131.64H244.15ZM331.99 162.61H361.27V172.9H331.99ZM331.99 172.9H383.23V183.17H331.99ZM324.67 183.17H383.23V193.43H324.67ZM156.31 193.43H178.27V203.66H156.31ZM317.35 193.43H390.55V203.66H317.35ZM170.95 203.66H178.27V213.88H170.95ZM317.35 203.66H390.55V213.88H317.35ZM178.27 213.88H229.51V224.09H178.27ZM244.15 213.88H266.11V224.09H244.15ZM317.35 213.88H397.87V224.09H317.35ZM68.47 224.09H266.11V234.27H68.47ZM317.35 224.09H397.87V234.27H317.35ZM68.47 234.27H229.51V244.44H68.47ZM258.79 234.27H266.11V244.44H258.79ZM317.35 234.27H375.91V244.44H317.35ZM383.23 234.27H397.87V244.44H383.23ZM68.47 244.44H207.55V254.59H68.47ZM273.43 244.44H288.07V254.59H273.43ZM331.99 244.44H375.91V254.59H331.99ZM383.23 244.44H397.87V254.59H383.23ZM68.47 254.59H244.15V264.72H68.47ZM339.31 254.59H397.87V264.72H339.31ZM68.47 264.72H266.11V274.84H68.47ZM331.99 264.72H419.83V274.84H331.99ZM170.95 274.84H288.07V284.94H170.95ZM346.63 274.84H419.83V284.94H346.63ZM68.47 284.94H295.39V295.02H68.47ZM317.35 284.94H324.67V295.02H317.35ZM353.95 284.94H419.83V295.02H353.95ZM68.47 295.02H317.35V305.09H68.47ZM368.59 295.02H441.79V305.09H368.59ZM68.47 305.09H302.71V315.14H68.47ZM368.59 305.09H383.23V315.14H368.59ZM405.19 305.09H441.79V315.14H405.19ZM68.47 315.14H331.99V325.17H68.47ZM368.59 315.14H390.55V325.17H368.59ZM412.51 315.14H441.79V325.17H412.51ZM68.47 325.17H302.71V335.19H68.47ZM317.35 325.17H331.99V335.19H317.35ZM390.55 325.17H405.19V335.19H390.55ZM412.51 325.17H441.79V335.19H412.51ZM68.47 335.19H273.43V345.19H68.47ZM280.75 335.19H324.67V345.19H280.75ZM368.59 335.19H405.19V345.19H368.59ZM68.47 345.19H258.79V355.17H68.47ZM302.71 345.19H324.67V355.17H302.71ZM346.63 345.19H353.95V355.17H346.63ZM368.59 345.19H397.87V355.17H368.59ZM68.47 355.17H236.83V365.14H68.47ZM368.59 355.17H397.87V365.14H368.59ZM68.47 365.14H236.83V375.09H68.47ZM375.91 365.14H397.87V375.09H375.91ZM68.47 375.09H236.83V385.03H68.47ZM368.59 375.09H397.87V385.03H368.59ZM368.59 385.03H412.51V394.95H368.59ZM368.59 394.95H412.51V404.85H368.59ZM280.75 404.85H288.07V414.74H280.75ZM266.11 414.74H288.07V424.62H266.11ZM68.47 424.62H280.75V434.48H68.47ZM68.47 434.48H302.71V444.32H68.47ZM68.47 444.32H302.71V454.14H68.47Z" fill="#fb6a4a"/><path d="M346.63 172.9H353.95V183.17H346.63ZM361.27 172.9H368.59V183.17H361.27ZM346.63 183.17H368.59V193.43H346.63ZM331.99 193.43H375.91V203.66H331.99ZM331.99 203.66H383.23V213.88H331.99ZM317.35 213.88H375.91V224.09H317.35ZM192.91 224.09H200.23V234.27H192.91ZM331.99 224.09H361.27V234.27H331.99ZM156.31 234.27H163.63V244.44H156.31ZM331.99 234.27H353.95V244.44H331.99ZM163.63 244.44H185.59V254.59H163.63ZM331.99 244.44H353.95V254.59H331.99ZM185.59 254.59H192.91V264.72H185.59ZM346.63 254.59H361.27V264.72H346.63ZM185.59 264.72H214.87V274.84H185.59ZM236.83 264.72H244.15V274.84H236.83ZM353.95 264.72H375.91V274.84H353.95ZM390.55 264.72H419.83V274.84H390.55ZM192.91 274.84H207.55V284.94H192.91ZM244.15 274.84H251.47V284.94H244.15ZM273.43 274.84H280.75V284.94H273.43ZM390.55 274.84H419.83V284.94H390.55ZM192.91 284.94H251.47V295.02H192.91ZM258.79 284.94H280.75V295.02H258.79ZM390.55 284.94H419.83V295.02H390.55ZM192.91 295.02H251.47V305.09H192.91ZM258.79 295.02H280.75V305.09H258.79ZM390.55 295.02H441.79V305.09H390.55ZM192.91 305.09H251.47V315.14H192.91ZM258.79 305.09H288.07V315.14H258.79ZM405.19 305.09H441.79V315.14H405.19ZM192.91 315.14H236.83V325.17H192.91ZM273.43 315.14H295.39V325.17H273.43ZM412.51 315.14H441.79V325.17H412.51ZM68.47 325.17H236.83V335.19H68.47ZM258.79 325.17H266.11V335.19H258.79ZM280.75 325.17H295.39V335.19H280.75ZM419.83 325.17H441.79V335.19H419.83ZM68.47 335.19H236.83V345.19H68.47ZM280.75 335.19H295.39V345.19H280.75ZM390.55 335.19H397.87V345.19H390.55ZM68.47 345.19H258.79V355.17H68.47ZM390.55 345.19H397.87V355.17H390.55ZM68.47 355.17H236.83V365.14H68.47ZM375.91 355.17H397.87V365.14H375.91ZM68.47 365.14H236.83V375.09H68.47ZM375.91 365.14H397.87V375.09H375.91ZM68.47 375.09H229.51V385.03H68.47ZM375.91 375.09H397.87V385.03H375.91ZM368.59 385.03H390.55V394.95H368.59ZM375.91 394.95H390.55V404.85H375.91ZM280.75 414.74H288.07V424.62H280.75ZM266.11 424.62H280.75V434.48H266.11ZM68.47 434.48H302.71V444.32H68.47ZM68.47 444.32H302.71V454.14H68.47Z" fill="#ef3b2c"/><path d="M339.31 193.43H353.95V203.66H339.31ZM339.31 203.66H368.59V213.88H339.31ZM331.99 213.88H361.27V224.09H331.99ZM331.99 224.09H346.63V234.27H331.99ZM331.99 234.27H339.31V244.44H331.99ZM229.51 284.94H244.15V295.02H229.51ZM192.91 295.02H207.55V305.09H192.91ZM229.51 295.02H244.15V305.09H229.51ZM405.19 295.02H441.79V305.09H405.19ZM207.55 305.09H214.87V315.14H207.55ZM273.43 305.09H280.75V315.14H273.43ZM412.51 305.09H441.79V315.14H412.51ZM207.55 315.14H229.51V325.17H207.55ZM427.15 315.14H441.79V325.17H427.15ZM207.55 325.17H222.19V335.19H207.55ZM68.47 355.17H229.51V365.14H68.47ZM375.91 355.17H390.55V365.14H375.91ZM68.47 365.14H229.51V375.09H68.47ZM375.91 365.14H397.87V375.09H375.91ZM68.47 375.09H229.51V385.03H68.47ZM375.91 375.09H397.87V385.03H375.91ZM368.59 385.03H390.55V394.95H368.59ZM375.91 394.95H390.55V404.85H375.91ZM266.11 424.62H280.75V434.48H266.11ZM68.47 434.48H302.71V444.32H68.47ZM68.47 444.32H302.71V454.14H68.47Z" fill="#cb181d"/><path d="M339.31 224.09H346.63V234.27H339.31ZM236.83 295.02H244.15V305.09H236.83ZM68.47 365.14H229.51V375.09H68.47ZM68.47 375.09H229.51V385.03H68.47ZM375.91 385.03H390.55V394.95H375.91ZM68.47 434.48H302.71V444.32H68.47ZM68.47 444.32H302.71V454.14H68.47Z" fill="#a50f15"/><path d="M251.47 355.17H258.79V365.14H251.47ZM236.83 365.14H266.11V375.09H236.83ZM236.83 375.09H273.43V385.03H236.83ZM68.47 385.03H280.75V394.95H68.47ZM346.63 385.03H353.95V394.95H346.63ZM68.47 394.95H280.75V404.85H68.47ZM339.31 394.95H346.63V404.85H339.31ZM68.47 404.85H280.75V414.74H68.47ZM258.79 414.74H266.11V424.62H258.79Z" fill="#fcbba1"/><path d="M244.15 385.03H251.47V394.95H244.15Z" fill="#fee0d2"/></g></g><use href="#b"/></g></svg><div class="box" style="left:7px;width:114px;height:200px"><div class="v" style="left:7.75px;top:8.00px;font-size:7.50px;letter-spacing:0.340px">Promene u budućnosti</div><div class="v" style="left:7.75px;top:17.35px;font-size:7.50px;letter-spacing:0.235px">(projekcije klime)</div><div class="l" style="left:7.75px;top:33.21px;font-size:7.20px;letter-spacing:0.247px">PROMENLJIVA</div><div class="v" style="left:7.75px;top:44.74px;font-size:7.40px;letter-spacing:0.234px">Broj ledenih dana (id)</div><div class="l" style="left:7.75px;top:61.11px;font-size:7.20px;letter-spacing:0.096px">REFERENTNI PERIOD</div><div class="v" style="left:7.75px;top:72.59px;font-size:7.40px;letter-spacing:-0.017px">1971-2000</div><div class="l" style="left:7.75px;top:89.01px;font-size:7.20px;letter-spacing:0.088px">PERIOD PROMENE</div><div class="v" style="left:7.75px;top:100.44px;font-size:7.40px;letter-spacing:-0.017px">2071-2100</div><div class="l" style="left:7.75px;top:116.91px;font-size:7.20px;letter-spacing:0.020px">SCENARIO</div><div class="v" style="left:7.75px;top:128.29px;font-size:7.40px;letter-spacing:0.372px">rcp45</div><div class="l" style="left:7.75px;top:144.81px;font-size:7.20px;letter-spacing:0.009px">SEZONA</div><div class="v" style="left:7.75px;top:156.14px;font-size:7.40px;letter-spacing:0.187px">Godina (god)</div><div class="l" style="left:7.75px;top:172.71px;font-size:7.20px;letter-spacing:-0.012px">OBLAST</div><div class="v" style="left:7.75px;top:183.99px;font-size:7.40px;letter-spacing:-0.020px">Region</div></div><div class="box" style="left:441px;width:64px;height:140px"><div class="v" style="left:8.10px;top:8.00px;font-size:7.50px;letter-spacing:0.273px">dani</div><i style="left:8.1px;top:25.10px;background:#67000d"></i><div class="v" style="left:18.75px;top:23.44px;font-size:7.40px;letter-spacing:0.319px">&lt; -55</div><i style="left:8.1px;top:37.70px;background:#a50f15"></i><div class="v" style="left:18.75px;top:36.04px;font-size:7.40px;letter-spacing:0.446px">-55 do -35</div><i style="left:8.1px;top:50.30px;background:#cb181d"></i><div class="v" style="left:18.75px;top:48.64px;font-size:7.40px;letter-spacing:0.485px">-35 do -30</div><i style="left:8.1px;top:62.90px;background:#ef3b2c"></i><div class="v" style="left:18.75px;top:61.24px;font-size:7.40px;letter-spacing:0.446px">-30 do -25</div><i style="left:8.1px;top:75.50px;background:#fb6a4a"></i><div class="v" style="left:18.75px;top:73.84px;font-size:7.40px;letter-spacing:0.418px">-25 do -20</div><i style="left:8.1px;top:88.10px;background:#fc9272"></i><div class="v" style="left:18.75px;top:86.44px;font-size:7.40px;letter-spacing:0.280px">-20 do -15</div><i style="left:8.1px;top:100.70px;background:#fcbba1"></i><div class="v" style="left:18.75px;top:99.04px;font-size:7.40px;letter-spacing:0.074px">-15 do -10</div><i style="left:8.1px;top:113.30px;background:#fee0d2"></i><div class="v" style="left:18.75px;top:111.64px;font-size:7.40px;letter-spacing:0.329px">-10 do -5</div><i style="left:8.1px;top:125.90px;background:#fff5f0"></i><div class="v" style="left:18.75px;top:124.24px;font-size:7.40px;letter-spacing:0.464px">&gt; -5</div></div><div class="box" style="left:519px;width:114px;height:200px"><div class="v" style="left:7.75px;top:8.00px;font-size:7.50px;letter-spacing:0.340px">Promene u budućnosti</div><div class="v" style="left:7.75px;top:17.35px;font-size:7.50px;letter-spacing:0.235px">(projekcije klime)</div><div class="l" style="left:7.75px;top:33.21px;font-size:7.20px;letter-spacing:0.247px">PROMENLJIVA</div><div class="v" style="left:7.75px;top:44.74px;font-size:7.40px;letter-spacing:0.234px">Broj ledenih dana (id)</div><div class="l" style="left:7.75px;top:61.11px;font-size:7.20px;letter-spacing:0.096px">REFERENTNI PERIOD</div><div class="v" style="left:7.75px;top:72.59px;font-size:7.40px;letter-spacing:-0.017px">1971-2000</div><div class="l" style="left:7.75px;top:89.01px;font-size:7.20px;letter-spacing:0.088px">PERIOD PROMENE</div><div class="v" style="left:7.75px;top:100.44px;font-size:7.40px;letter-spacing:-0.017px">2071-2100</div><div class="l" style="left:7.75px;top:116.91px;font-size:7.20px;letter-spacing:0.020px">SCENARIO</div><div class="v" style="left:7.75px;top:128.29px;font-size:7.40px;letter-spacing:0.372px">rcp85</div><div class="l" style="left:7.75px;top:144.81px;font-size:7.20px;letter-spacing:0.009px">SEZONA</div><div class="v" style="left:7.75px;top:156.14px;font-size:7.40px;letter-spacing:0.187px">Godina (god)</div><div class="l" style="left:7.75px;top:172.71px;font-size:7.20px;letter-spacing:-0.012px">OBLAST</div><div class="v" style="left:7.75px;top:183.99px;font-size:7.40px;letter-spacing:-0.020px">Region</div></div><div class="box" style="left:953px;width:64px;height:140px"><div class="v" style="left:8.10px;top:8.00px;font-size:7.50px;letter-spacing:0.273px">dani</div><i style="left:8.1px;top:25.10px;background:#67000d"></i><div class="v" style="left:18.75px;top:23.44px;font-size:7.40px;letter-spacing:0.319px">&lt; -55</div><i style="left:8.1px;top:37.70px;background:#a50f15"></i><div class="v" style="left:18.75px;top:36.04px;font-size:7.40px;letter-spacing:0.446px">-55 do -35</div><i style="left:8.1px;top:50.30px;background:#cb181d"></i><div class="v" style="left:18.75px;top:48.64px;font-size:7.40px;letter-spacing:0.485px">-35 do -30</div><i style="left:8.1px;top:62.90px;background:#ef3b2c"></i><div class="v" style="left:18.75px;top:61.24px;font-size:7.40px;letter-spacing:0.446px">-30 do -25</div><i style="left:8.1px;top:75.50px;background:#fb6a4a"></i><div class="v" style="left:18.75px;top:73.84px;font-size:7.40px;letter-spacing:0.418px">-25 do -20</div><i style="left:8.1px;top:88.10px;background:#fc9272"></i><div class="v" style="left:18.75px;top:86.44px;font-size:7.40px;letter-spacing:0.280px">-20 do -15</div><i style="left:8.1px;top:100.70px;background:#fcbba1"></i><div class="v" style="left:18.75px;top:99.04px;font-size:7.40px;letter-spacing:0.074px">-15 do -10</div><i style="left:8.1px;top:113.30px;background:#fee0d2"></i><div class="v" style="left:18.75px;top:111.64px;font-size:7.40px;letter-spacing:0.329px">-10 do -5</div><i style="left:8.1px;top:125.90px;background:#fff5f0"></i><div class="v" style="left:18.75px;top:124.24px;font-size:7.40px;letter-spacing:0.464px">&gt; -5</div></div></body></html>
